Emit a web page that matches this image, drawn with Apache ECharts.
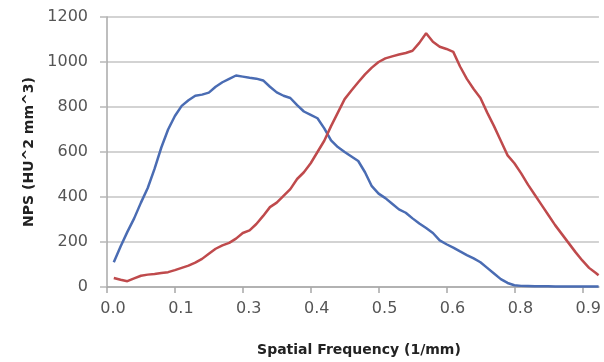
<!DOCTYPE html>
<html>
<head>
<meta charset="utf-8">
<script src="https://cdn.jsdelivr.net/npm/echarts@6/dist/echarts.min.js"></script>
<style>html,body{margin:0;padding:0;background:#fff}#c{width:604px;height:362px}</style>
</head>
<body>
<div id="c"></div>
<script>
// Nominal spatial-frequency positions (tick spacing 0.1)
const freq = [0.01,0.02,0.03,0.04,0.05,0.06,0.07,0.08,0.09,0.10,
  0.11,0.12,0.13,0.14,0.15,0.16,0.17,0.18,0.19,0.20,
  0.21,0.22,0.23,0.24,0.25,0.26,0.27,0.28,0.29,0.30,
  0.31,0.32,0.33,0.34,0.35,0.36,0.37,0.38,0.39,0.40,
  0.41,0.42,0.43,0.44,0.45,0.46,0.47,0.48,0.49,0.50,
  0.51,0.52,0.53,0.54,0.55,0.56,0.57,0.58,0.59,0.60,
  0.61,0.62,0.63,0.64,0.65,0.66,0.67,0.68,0.69,0.70,
  0.71,0.72,0.724];
const blueNPS = [110,180,245,305,375,440,525,620,700,760,
  805,830,850,855,864,890,910,925,940,935,
  930,926,918,890,865,850,840,808,780,765,
  750,705,652,622,600,580,560,510,448,415,
  395,370,345,330,305,282,262,240,207,190,
  175,158,142,127,110,85,60,35,18,8,
  5,4,3,3,3,2,2,2,2,2,
  2,2,2];
const redNPS = [40,32,26,38,50,55,58,62,66,75,
  85,95,108,125,148,170,185,196,215,240,
  252,280,316,355,375,405,435,480,510,550,
  600,650,715,775,835,873,910,945,975,1000,
  1016,1025,1033,1040,1050,1085,1128,1090,1068,1058,
  1045,980,925,880,840,775,715,650,585,550,
  505,455,410,365,320,275,235,195,155,118,
  85,62,52];
const xTickLabels = ['0.0','0.1','0.3','0.4','0.5','0.6','0.8','0.9'];
const yTicks = [0,200,400,600,800,1000,1200];

const zip = (xs, ys) => xs.map((x, i) => [x, ys[i]]);
const labelFont = {fontFamily: 'DejaVu Sans', fontSize: 16, color: '#555'};

const chart = echarts.init(document.getElementById('c'), null, {renderer: 'canvas'});
chart.setOption({
  animation: false,
  backgroundColor: '#fff',
  grid: {left: 107, right: 0, top: 17, bottom: 73, containLabel: false},
  xAxis: {
    type: 'value', min: 0, max: 0.7245, interval: 0.1,
    name: 'Spatial Frequency (1/mm)', nameLocation: 'middle', nameGap: 56,
    nameTextStyle: {fontFamily: 'DejaVu Sans', fontWeight: 'bold', fontSize: 14, color: '#222', padding: [0,0,0,12]},
    axisLine: {show: true, lineStyle: {color: '#a8a8a8', width: 1.5}},
    axisTick: {show: true, length: 6, inside: false, lineStyle: {color: '#a8a8a8', width: 1.5}},
    splitLine: {show: false},
    axisLabel: Object.assign({}, labelFont, {
      margin: 14, padding: [0,0,0,12], showMaxLabel: false,
      formatter: v => {
        const i = Math.round(v * 10);
        return Math.abs(v * 10 - i) < 1e-6 && xTickLabels[i] !== undefined ? xTickLabels[i] : '';
      }
    })
  },
  yAxis: {
    type: 'value', min: yTicks[0], max: yTicks[yTicks.length - 1], interval: 200,
    name: 'NPS (HU^2 mm^3)', nameLocation: 'middle', nameGap: 68, nameRotate: 90,
    nameTextStyle: {fontFamily: 'DejaVu Sans', fontWeight: 'bold', fontSize: 14, color: '#222'},
    axisLine: {show: true, lineStyle: {color: '#a8a8a8', width: 1.5}},
    axisTick: {show: true, length: 7, lineStyle: {color: '#b8b8b8', width: 1.5}},
    splitLine: {show: true, lineStyle: {color: '#c4c4c4', width: 1.5}},
    axisLabel: Object.assign({}, labelFont, {margin: 19, formatter: v => String(v)})
  },
  series: [
    {type: 'line', data: zip(freq, blueNPS), showSymbol: false, smooth: false,
     lineStyle: {color: '#4a6cb3', width: 2.5}, itemStyle: {color: '#4a6cb3'}},
    {type: 'line', data: zip(freq, redNPS), showSymbol: false, smooth: false,
     lineStyle: {color: '#bf4a4c', width: 2.5}, itemStyle: {color: '#bf4a4c'}}
  ]
});
</script>
</body>
</html>
